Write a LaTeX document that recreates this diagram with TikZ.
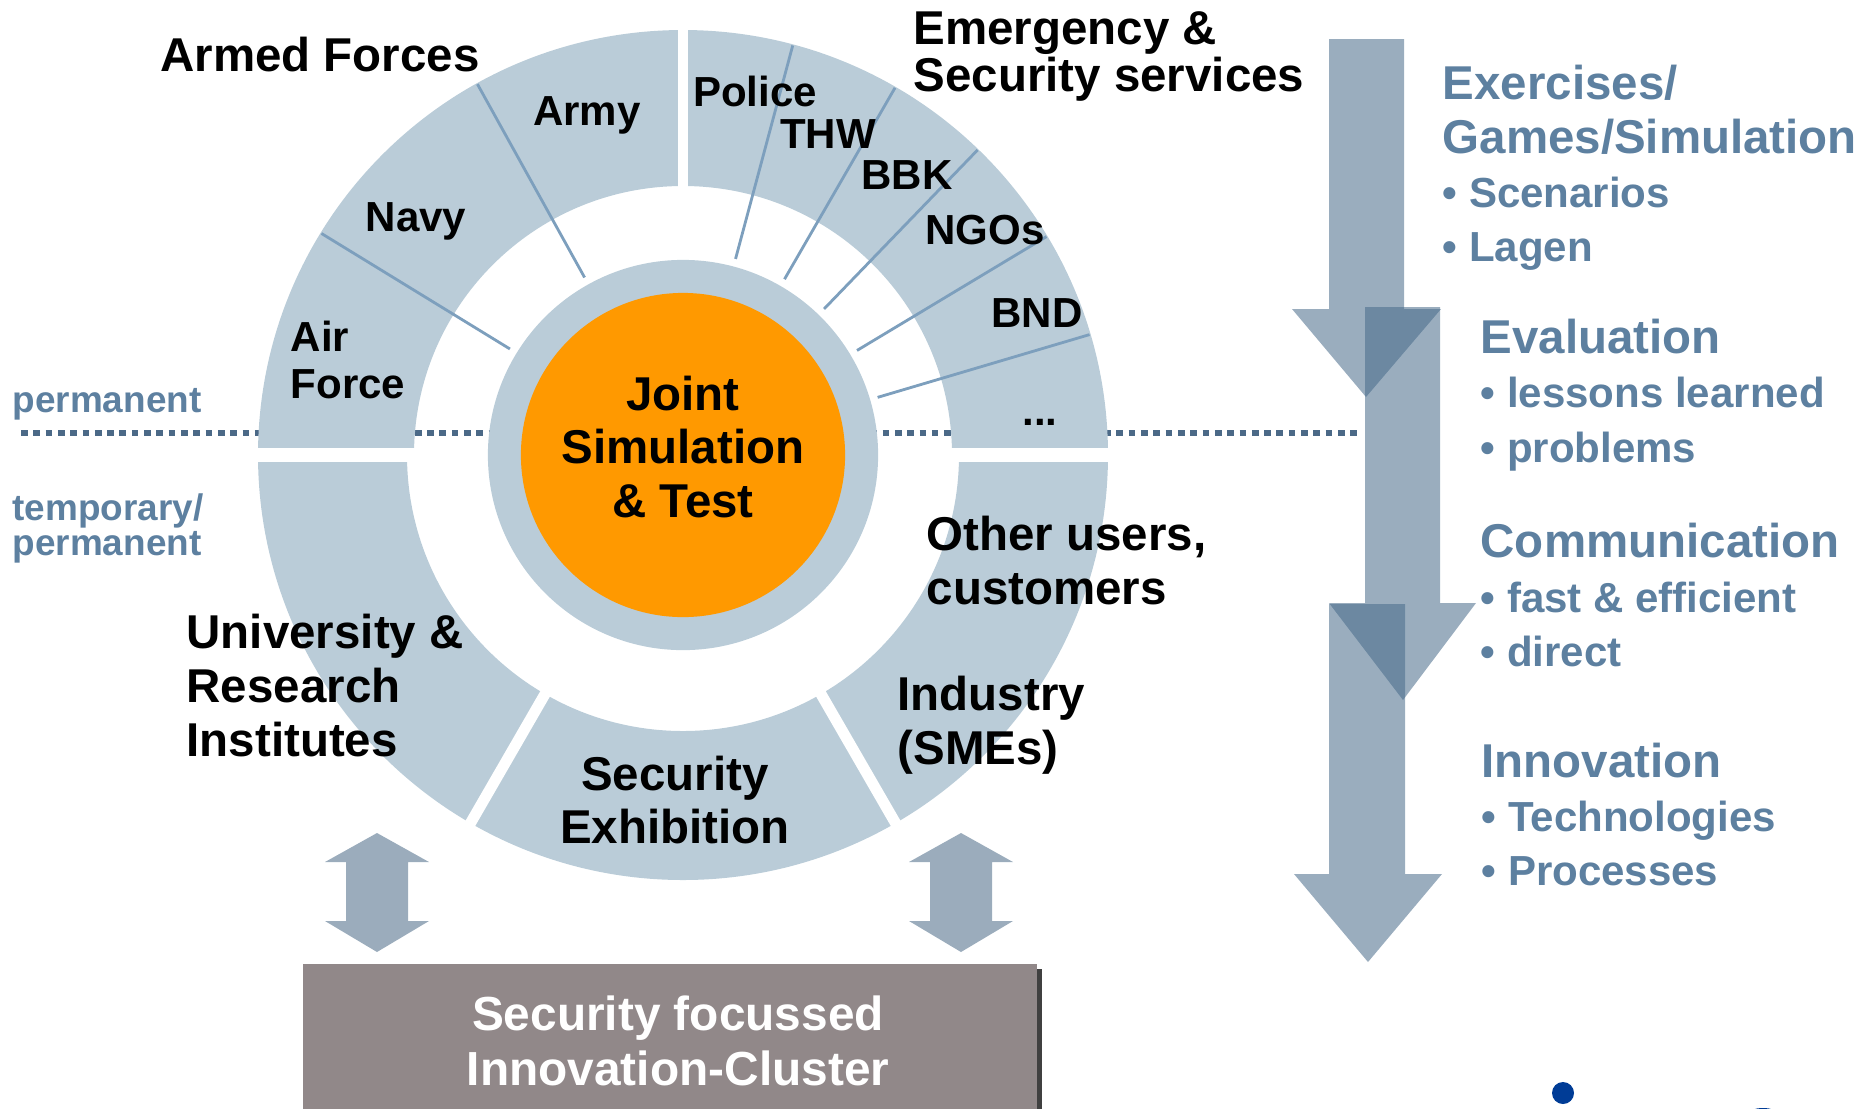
\documentclass[tikz,border=0pt]{standalone}
\usepackage{fontspec}
\setmainfont{Liberation Sans}
\usepackage{tikz}
\usetikzlibrary{shadows}
\definecolor{ringblue}{RGB}{186,204,216}
\definecolor{divline}{RGB}{125,159,189}
\definecolor{dotblue}{RGB}{75,105,135}
\definecolor{steeltext}{RGB}{93,128,160}
\definecolor{flowblue}{RGB}{66,102,134}
\definecolor{linkblue}{RGB}{155,172,188}
\definecolor{simorange}{RGB}{255,153,0}
\definecolor{clustergray}{RGB}{145,136,137}
\definecolor{logoblue}{RGB}{0,60,150}
\newcommand{\bigtext}{\fontsize{13.5}{15.3}\selectfont\bfseries}
\newcommand{\segtext}{\fontsize{11.95}{13.5}\selectfont\bfseries}
\newcommand{\bulletsize}{\fontsize{11.95}{15.4}\selectfont}
\tikzstyle{headline} = [inner sep=0pt, font=\bigtext, align=left]
\tikzstyle{segment} = [inner sep=0pt, font=\segtext, align=left]
\tikzstyle{infotext} = [inner sep=0pt, font=\fontsize{13.5}{15.4}\selectfont\bfseries, text=steeltext, align=left, anchor=west]
\tikzstyle{sidenote} = [inner sep=0pt, font=\fontsize{10.5}{10.2}\selectfont\bfseries, text=steeltext, align=left]
\tikzstyle{gap} = [white, line width=0.11cm]
\tikzstyle{divider} = [divline, line width=0.8pt]
\tikzstyle{flowarrow} = [fill=flowblue, fill opacity=0.535]
\tikzstyle{linkarrow} = [fill=linkblue]
\tikzstyle{clusterbox} = [rectangle, fill=clustergray, minimum width=7.34cm, minimum height=1.56cm, drop shadow={shadow xshift=0.045cm, shadow yshift=-0.05cm, fill=black!75, opacity=1}]
\tikzstyle{clustertext} = [inner sep=0pt, text=white, align=center, font=\fontsize{13.6}{15.5}\selectfont\bfseries]

\begin{document}
\begin{tikzpicture}[x=0.01cm, y=0.01cm]
\useasboundingbox (0,0) rectangle (1866,-1108);
\coordinate (c) at (683,-455);

% permanent / temporary border
\coordinate (borderL) at (21,-433);
\coordinate (borderR) at (1357,-433);
\draw[dotblue, line width=1.7pt, dash pattern=on 1.9pt off 1.6pt] (borderL) -- (borderR);

% outer ring
\fill[ringblue] ([shift={(0:425)}]c) arc[start angle=0, end angle=180, radius=425] -- ([shift={(180:269)}]c) arc[start angle=180, end angle=0, radius=269] -- cycle;
\fill[ringblue] ([shift={(180:425)}]c) arc[start angle=180, end angle=360, radius=425] -- ([shift={(0:276)}]c) arc[start angle=360, end angle=180, radius=276] -- cycle;

% gaps between the parts
\draw[gap, line width=0.106cm] ([shift={(90:262)}]c) -- ([shift={(90:432)}]c);
\draw[gap, line width=0.14cm] ([shift={(180:262)}]c) -- ([shift={(180:432)}]c);
\draw[gap, line width=0.14cm] ([shift={(0:262)}]c) -- ([shift={(0:432)}]c);
\draw[gap] ([shift={(240:262)}]c) -- ([shift={(240:432)}]c);
\draw[gap] ([shift={(300:262)}]c) -- ([shift={(300:432)}]c);

% dividers
\foreach \a in {119,148.5,75,60,46,31,16.5}
  \draw[divider] ([shift={(\a:203)}]c) -- ([shift={(\a:424)}]c);

% Central node
\node[circle, fill=ringblue, minimum size=3.9cm, inner sep=0pt] (hub) at (c) {};
\node[circle, fill=simorange, minimum size=3.24cm, inner sep=0pt] (core) at (c) {};
\node[headline, align=center] (coretext) at (683,-447) {Joint\\Simulation\\\& Test};

% armed forces
\node[headline, anchor=base] (armed) at (320,-71) {Armed Forces};
\node[segment, anchor=base] (army) at (587,-125) {Army};
\node[segment, anchor=base] (navy) at (416,-231) {Navy};
\node[segment, anchor=west] (airforce) at (290,-360) {Air\\Force};

% emergency services
\node[headline, anchor=west, font=\fontsize{13.5}{13.5}\selectfont\bfseries] (emergency) at (913,-56.5) {Emergency \&\\Security services};
\node[segment, anchor=base] (police) at (755,-106) {Police};
\node[segment, anchor=base] (thw) at (828,-148) {THW};
\node[segment, anchor=base] (bbk) at (907,-189) {BBK};
\node[segment, anchor=base] (ngos) at (985,-244) {NGOs};
\node[segment, anchor=base] (bnd) at (1037,-327) {BND};
\node[segment, anchor=base] (more) at (1040,-425) {...};

% lower half
\node[headline, anchor=west] (university) at (186,-685.6) {University \&\\Research\\Institutes};
\node[headline, align=center] (exhibition) at (675,-800) {Security\\Exhibition};
\node[headline, anchor=west] (industry) at (897,-725.5) {Industry\\(SMEs)};
\node[headline, anchor=west] (others) at (926,-560.5) {Other users,\\customers};

% side notes
\node[sidenote, anchor=base west] (permanent) at (12,-412) {permanent};
\node[sidenote, anchor=west] (temporary) at (12,-528.5) {temporary/\\permanent};

% process arrows
\fill[flowarrow] (1329,-39) -- (1404,-39) -- (1404,-309) -- (1441,-309) -- (1366,-397) -- (1292,-309) -- (1329,-309) -- cycle;
\fill[flowarrow] (1365,-307) -- (1440,-307) -- (1440,-603) -- (1476,-603) -- (1403,-700) -- (1329,-603) -- (1365,-603) -- cycle;
\fill[flowarrow] (1329,-604) -- (1405,-604) -- (1405,-874) -- (1442,-874) -- (1368,-962) -- (1294,-874) -- (1329,-874) -- cycle;

% process steps
\node[infotext] (exercises) at (1442,-167.5) {Exercises/\\Games/Simulation\\\bulletsize• Scenarios\\\bulletsize• Lagen};
\node[infotext] (evaluation) at (1480,-395) {Evaluation\\\bulletsize• lessons learned\\\bulletsize• problems};
\node[infotext] (communication) at (1480,-595) {Communication\\\bulletsize• fast \& efficient\\\bulletsize• direct};
\node[infotext] (innovation) at (1481,-814.6) {Innovation\\\bulletsize• Technologies\\\bulletsize• Processes};

% links to the cluster
\foreach \x in {377,961}
  \fill[linkarrow, shift={(\x,0)}] (0,-833) -- (52,-862) -- (31,-862) -- (31,-921) -- (52,-921) -- (0,-952) -- (-52,-921) -- (-31,-921) -- (-31,-862) -- (-52,-862) -- cycle;

% cluster
\node[clusterbox] (cluster) at (670,-1042) {};
\node[clustertext] (clustertitle) at (678,-1041) {Security focussed\\Innovation-Cluster};

% logo corner
\fill[logoblue] (1563,-1093) circle[radius=11];
\fill[logoblue] (1763,-1130) ellipse[x radius=28, y radius=22];
\end{tikzpicture}
\end{document}
